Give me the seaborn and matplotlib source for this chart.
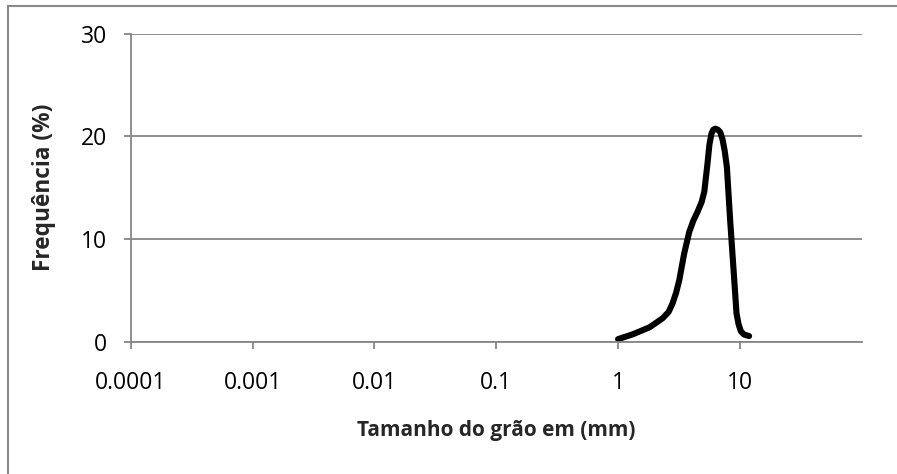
import matplotlib
matplotlib.use("Agg")
import matplotlib.pyplot as plt
import seaborn as sns
import pandas as pd
from matplotlib.patches import Rectangle

grain_size_mm = [1.0, 1.32, 1.81, 2.32, 2.60, 2.80, 3.00, 3.18, 3.49, 3.84, 4.15,
                 4.49, 4.85, 5.10, 5.42, 5.62, 5.85, 6.05, 6.28, 6.60, 6.90,
                 7.20, 7.50, 7.82, 8.32, 8.87, 9.38, 9.75, 10.2, 10.8, 11.9]
frequency_pct = [0.25, 0.72, 1.4, 2.28, 2.9, 3.73, 4.8, 6.0, 8.6, 10.7, 11.8,
                 12.65, 13.6, 14.6, 17.35, 19.2, 20.3, 20.65, 20.75, 20.65, 20.4,
                 19.7, 18.6, 17.0, 11.8, 7.0, 2.76, 1.7, 1.0, 0.7, 0.55]
x_ticks = [0.0001, 0.001, 0.01, 0.1, 1, 10]
x_tick_labels = ["0.0001", "0.001", "0.01", "0.1", "1", "10"]
y_ticks = [0, 10, 20, 30]

sns.set_theme(style="white")
plt.rcParams['font.family'] = ['Open Sans', 'DejaVu Sans']

grid_c = "#868686"
fig = plt.figure(figsize=(8.97, 4.74), dpi=100)
ax = fig.add_axes([0.1457, 0.2791, 0.815, 0.6498])

df = pd.DataFrame({"size": grain_size_mm, "freq": frequency_pct})
sns.lineplot(data=df, x="size", y="freq", ax=ax, color="black", linewidth=4.4,
             estimator=None, sort=False)
for l in ax.lines:
    l.set_solid_capstyle("round")
    l.set_solid_joinstyle("round")

ax.set_xscale("log")
ax.set_xlim(1e-4, 1e2)
ax.set_ylim(0, 30)
ax.set_xticks(x_ticks)
ax.set_xticklabels(x_tick_labels)
ax.minorticks_off()
ax.set_yticks(y_ticks)

ax.yaxis.grid(True, color=grid_c, linewidth=1.3)
ax.xaxis.grid(False)
ax.set_axisbelow(True)
for s in ["top", "right"]:
    ax.spines[s].set_visible(False)
for s in ["left", "bottom"]:
    ax.spines[s].set_color(grid_c)
    ax.spines[s].set_linewidth(1.3)

ax.tick_params(axis="x", which="major", direction="out", length=5, width=1.3,
               color=grid_c, labelsize=16.5, labelcolor="black", pad=16, bottom=True)
ax.tick_params(axis="y", which="major", direction="out", length=5, width=1.3,
               color=grid_c, labelsize=16.5, labelcolor="black", pad=12, left=True)

ax.set_xlabel("Tamanho do grão em (mm)", fontsize=15, fontweight="bold", labelpad=18)
ax.set_ylabel("Frequência (%)", fontsize=16.3, fontweight="bold", labelpad=18)

fig.patches.append(Rectangle((8 / 897, -0.1), 1.2, 1 - 6 / 474 + 0.1,
                             transform=fig.transFigure, fill=False,
                             edgecolor="#8a8a8a", linewidth=1.5, zorder=-1))

fig.savefig("out.png", dpi=100)
